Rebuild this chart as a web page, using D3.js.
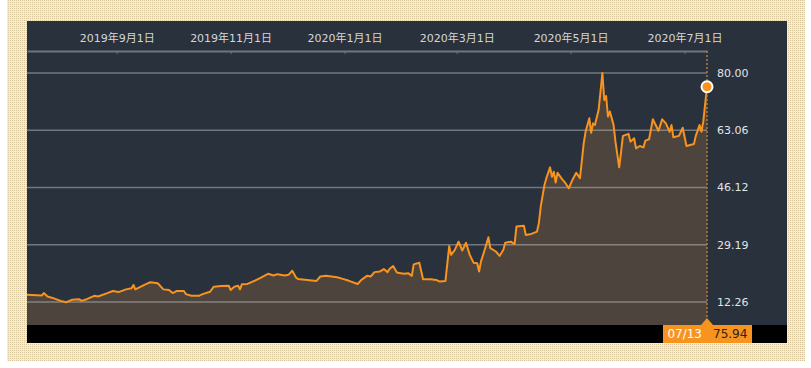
<!DOCTYPE html>
<html lang="ja">
<head>
<meta charset="utf-8">
<title>price chart 1y</title>
<script src="https://d3js.org/d3.v7.min.js"></script>
<style type="text/css">
  body { margin: 0; background: #fff; }
  .xaxis text { fill: #d3d7dc; font-size: 11px; font-family: "DejaVu Sans", "Noto Sans CJK JP", sans-serif; }
  .xaxis path, .xaxis line { stroke: #70767e; }
  .xaxis path { stroke-width: 2px; }
  .ylab { fill: #e0e4e8; font-size: 11px; font-family: "DejaVu Sans", sans-serif; }
  .grid { stroke: rgba(205, 205, 205, 0.45); stroke-width: 1.5px; }
  .linestyle { fill: none; stroke: #f7931e; stroke-width: 2px; stroke-linejoin: round; }
  .areastyle { fill: #4c443d; }
</style>
</head>
<body>
<script type="text/javascript">

var w = 811;
var h = 368;
var margin = {top: 51, right: 104, bottom: 43, left: 27};
var innerWidth = w - margin.left - margin.right;
var innerHeight = h - margin.top - margin.bottom;

// data
var dates = [
  "2019-07-15","2019-07-23","2019-07-24","2019-07-26","2019-07-29","2019-08-02","2019-08-05","2019-08-08",
  "2019-08-12","2019-08-13","2019-08-16","2019-08-20","2019-08-22","2019-08-27","2019-08-30","2019-09-02",
  "2019-09-06","2019-09-09","2019-09-10","2019-09-11","2019-09-15","2019-09-17","2019-09-19","2019-09-23",
  "2019-09-26","2019-09-29","2019-10-01","2019-10-03","2019-10-07","2019-10-08","2019-10-11","2019-10-15",
  "2019-10-17","2019-10-21","2019-10-23","2019-10-27","2019-10-31","2019-11-01","2019-11-03","2019-11-05",
  "2019-11-06","2019-11-07","2019-11-10","2019-11-14","2019-11-17","2019-11-21","2019-11-24","2019-11-26",
  "2019-11-30","2019-12-02","2019-12-04","2019-12-06","2019-12-07","2019-12-12","2019-12-17","2019-12-19",
  "2019-12-22","2019-12-28","2019-12-31","2020-01-03","2020-01-08","2020-01-10","2020-01-13","2020-01-15",
  "2020-01-17","2020-01-20","2020-01-22","2020-01-24","2020-01-25","2020-01-27","2020-01-29","2020-01-31",
  "2020-02-02","2020-02-04","2020-02-06","2020-02-07","2020-02-09","2020-02-10","2020-02-12","2020-02-16",
  "2020-02-19","2020-02-21","2020-02-24","2020-02-26","2020-02-27","2020-02-29","2020-03-02","2020-03-04",
  "2020-03-06","2020-03-08","2020-03-10","2020-03-12","2020-03-13","2020-03-14","2020-03-16","2020-03-18",
  "2020-03-19","2020-03-22","2020-03-24","2020-03-26","2020-03-27","2020-03-30","2020-04-01","2020-04-02",
  "2020-04-06","2020-04-07","2020-04-10","2020-04-13","2020-04-14","2020-04-15","2020-04-17","2020-04-18",
  "2020-04-20","2020-04-21","2020-04-22","2020-04-23","2020-04-24","2020-04-26","2020-04-28","2020-04-30",
  "2020-05-02","2020-05-04","2020-05-06","2020-05-08","2020-05-09","2020-05-11","2020-05-12","2020-05-13",
  "2020-05-14","2020-05-16","2020-05-18","2020-05-19","2020-05-20","2020-05-21","2020-05-22","2020-05-24",
  "2020-05-25","2020-05-27","2020-05-28","2020-05-29","2020-06-01","2020-06-02","2020-06-04","2020-06-05",
  "2020-06-07","2020-06-09","2020-06-10","2020-06-12","2020-06-14","2020-06-16","2020-06-17","2020-06-19",
  "2020-06-21","2020-06-23","2020-06-24","2020-06-25","2020-06-28","2020-06-30","2020-07-02","2020-07-06",
  "2020-07-07","2020-07-09","2020-07-10","2020-07-11","2020-07-13"];

var prices = [
  14.4, 14.2, 14.9, 13.9, 13.4, 12.6, 12.2, 12.9,
  13.1, 12.6, 13.1, 14.1, 13.9, 14.9, 15.5, 15.2,
  16.0, 16.3, 17.3, 16.0, 17.1, 17.6, 18.1, 17.8,
  16.0, 15.8, 14.9, 15.5, 15.5, 14.6, 14.1, 14.1,
  14.6, 15.3, 16.8, 17.0, 17.1, 15.8, 16.8, 17.1,
  16.0, 17.5, 17.6, 18.6, 19.4, 20.6, 20.1, 20.5,
  20.1, 20.3, 21.5, 19.5, 19.1, 18.8, 18.5, 19.8,
  20.0, 19.6, 19.1, 18.6, 17.6, 18.8, 20.0, 19.8,
  21.1, 21.3, 22.0, 21.1, 22.0, 22.9, 21.0, 20.8,
  20.6, 20.8, 20.0, 23.4, 23.7, 23.9, 19.0, 19.0,
  18.8, 18.3, 18.5, 28.8, 26.2, 27.7, 30.1, 27.5,
  29.8, 26.2, 23.9, 23.7, 21.3, 24.2, 27.7, 31.4,
  28.2, 27.2, 25.9, 27.7, 29.8, 30.1, 29.4, 34.6,
  34.8, 32.1, 32.4, 33.1, 35.6, 40.5, 46.9, 48.9,
  52.1, 49.3, 50.8, 47.6, 50.5, 48.9, 47.6, 45.9,
  48.4, 50.5, 48.9, 59.2, 62.6, 66.6, 62.3, 65.1,
  64.6, 69.1, 80.0, 72.0, 73.2, 67.1, 68.6, 64.6,
  59.7, 52.1, 56.7, 61.4, 62.0, 59.7, 60.7, 57.7,
  58.4, 58.0, 60.0, 60.4, 66.3, 64.1, 62.9, 66.3,
  65.1, 62.6, 64.6, 61.0, 61.4, 63.8, 58.4, 59.0,
  61.4, 64.6, 62.6, 65.6, 75.94];

var xTickDates = ["2019-09-01", "2019-11-01", "2020-01-01", "2020-03-01", "2020-05-01", "2020-07-01"];
var yTicks = [12.26, 29.19, 46.12, 63.06, 80.00];
var yRange = [5.46, 86.51];
var lastLabel = "07/13";

var parse = d3.timeParse("%Y-%m-%d");
var data = dates.map((d, i) => [parse(d), prices[i]]);
var last = data[data.length - 1];

var svg = d3.select("body")
            .append("svg")
            .attr("width", w)
            .attr("height", h);

// textured page background
var pat = svg.append("defs").append("pattern")
             .attr("id", "dots")
             .attr("width", 2).attr("height", 2)
             .attr("patternUnits", "userSpaceOnUse");
pat.append("rect").attr("width", 2).attr("height", 2).attr("fill", "#f4eed6");
pat.append("rect").attr("width", 1).attr("height", 1).attr("fill", "#d6c59a");

svg.append("rect")
   .attr("x", 7).attr("y", 0)
   .attr("width", 798).attr("height", 361)
   .attr("fill", "url(#dots)");

// dark panel
svg.append("rect")
   .attr("x", margin.left).attr("y", 21)
   .attr("width", 760).attr("height", 322)
   .attr("fill", "#29313c");

svg.append("rect")
   .attr("x", margin.left).attr("y", margin.top + innerHeight)
   .attr("width", 760).attr("height", 18)
   .attr("fill", "#000");

var g = svg.append("g")
           .attr("transform", `translate(${margin.left}, ${margin.top})`);

var xScale = d3.scaleTime()
               .domain([parse("2019-07-15"), last[0]])
               .range([0, innerWidth]);

var yScale = d3.scaleLinear()
               .domain(yRange)
               .range([innerHeight, 0]);

// area + line
var areaGen = d3.area()
                .x(d => xScale(d[0]))
                .y0(innerHeight)
                .y1(d => yScale(d[1]));

var lineGen = d3.line()
                .x(d => xScale(d[0]))
                .y(d => yScale(d[1]));

g.append("path")
 .datum(data)
 .attr("class", "areastyle")
 .attr("d", areaGen);

// gridlines
g.selectAll("line.grid")
 .data(yTicks)
 .enter()
 .append("line")
 .attr("class", "grid")
 .attr("x1", 0).attr("x2", innerWidth)
 .attr("y1", d => yScale(d)).attr("y2", d => yScale(d));

g.selectAll("text.ylab")
 .data(yTicks)
 .enter()
 .append("text")
 .attr("class", "ylab")
 .attr("x", innerWidth + 10)
 .attr("y", d => yScale(d))
 .attr("dy", "0.35em")
 .text(d => d.toFixed(2));

// top date axis
var xAxis = d3.axisTop(xScale)
              .tickValues(xTickDates.map(parse))
              .tickSize(-3)
              .tickSizeOuter(0)
              .tickPadding(9)
              .tickFormat(d3.timeFormat("%Y年%-m月%-d日"));

g.append("g")
 .attr("class", "xaxis")
 .call(xAxis);

g.append("path")
 .datum(data)
 .attr("class", "linestyle")
 .attr("d", lineGen);

// last value marker
var lx = xScale(last[0]);

g.append("line")
 .attr("x1", lx).attr("x2", lx)
 .attr("y1", 0).attr("y2", innerHeight - 7)
 .attr("stroke", "#b77a3c")
 .attr("stroke-width", 1.5)
 .attr("stroke-dasharray", "2,2");

g.append("circle")
 .attr("cx", lx)
 .attr("cy", yScale(last[1]))
 .attr("r", 5.5)
 .attr("fill", "#f7931e")
 .attr("stroke", "#fff")
 .attr("stroke-width", 2);

g.append("path")
 .attr("d", `M${lx - 6},${innerHeight} L${lx},${innerHeight - 7} L${lx + 6},${innerHeight} Z`)
 .attr("fill", "#f7931e");

g.append("rect")
 .attr("x", lx - 44).attr("y", innerHeight)
 .attr("width", 89).attr("height", 18)
 .attr("fill", "#f7931e");

g.append("text")
 .attr("x", lx - 5).attr("y", innerHeight + 9)
 .attr("dy", "0.35em")
 .attr("text-anchor", "end")
 .attr("fill", "#fff")
 .attr("font-family", "DejaVu Sans, sans-serif")
 .attr("font-size", "12px")
 .text(lastLabel);

g.append("text")
 .attr("x", lx + 6).attr("y", innerHeight + 9)
 .attr("dy", "0.35em")
 .attr("fill", "#2a2420")
 .attr("font-family", "DejaVu Sans, sans-serif")
 .attr("font-size", "12px")
 .text(last[1].toFixed(2));

</script>
</body>
</html>
